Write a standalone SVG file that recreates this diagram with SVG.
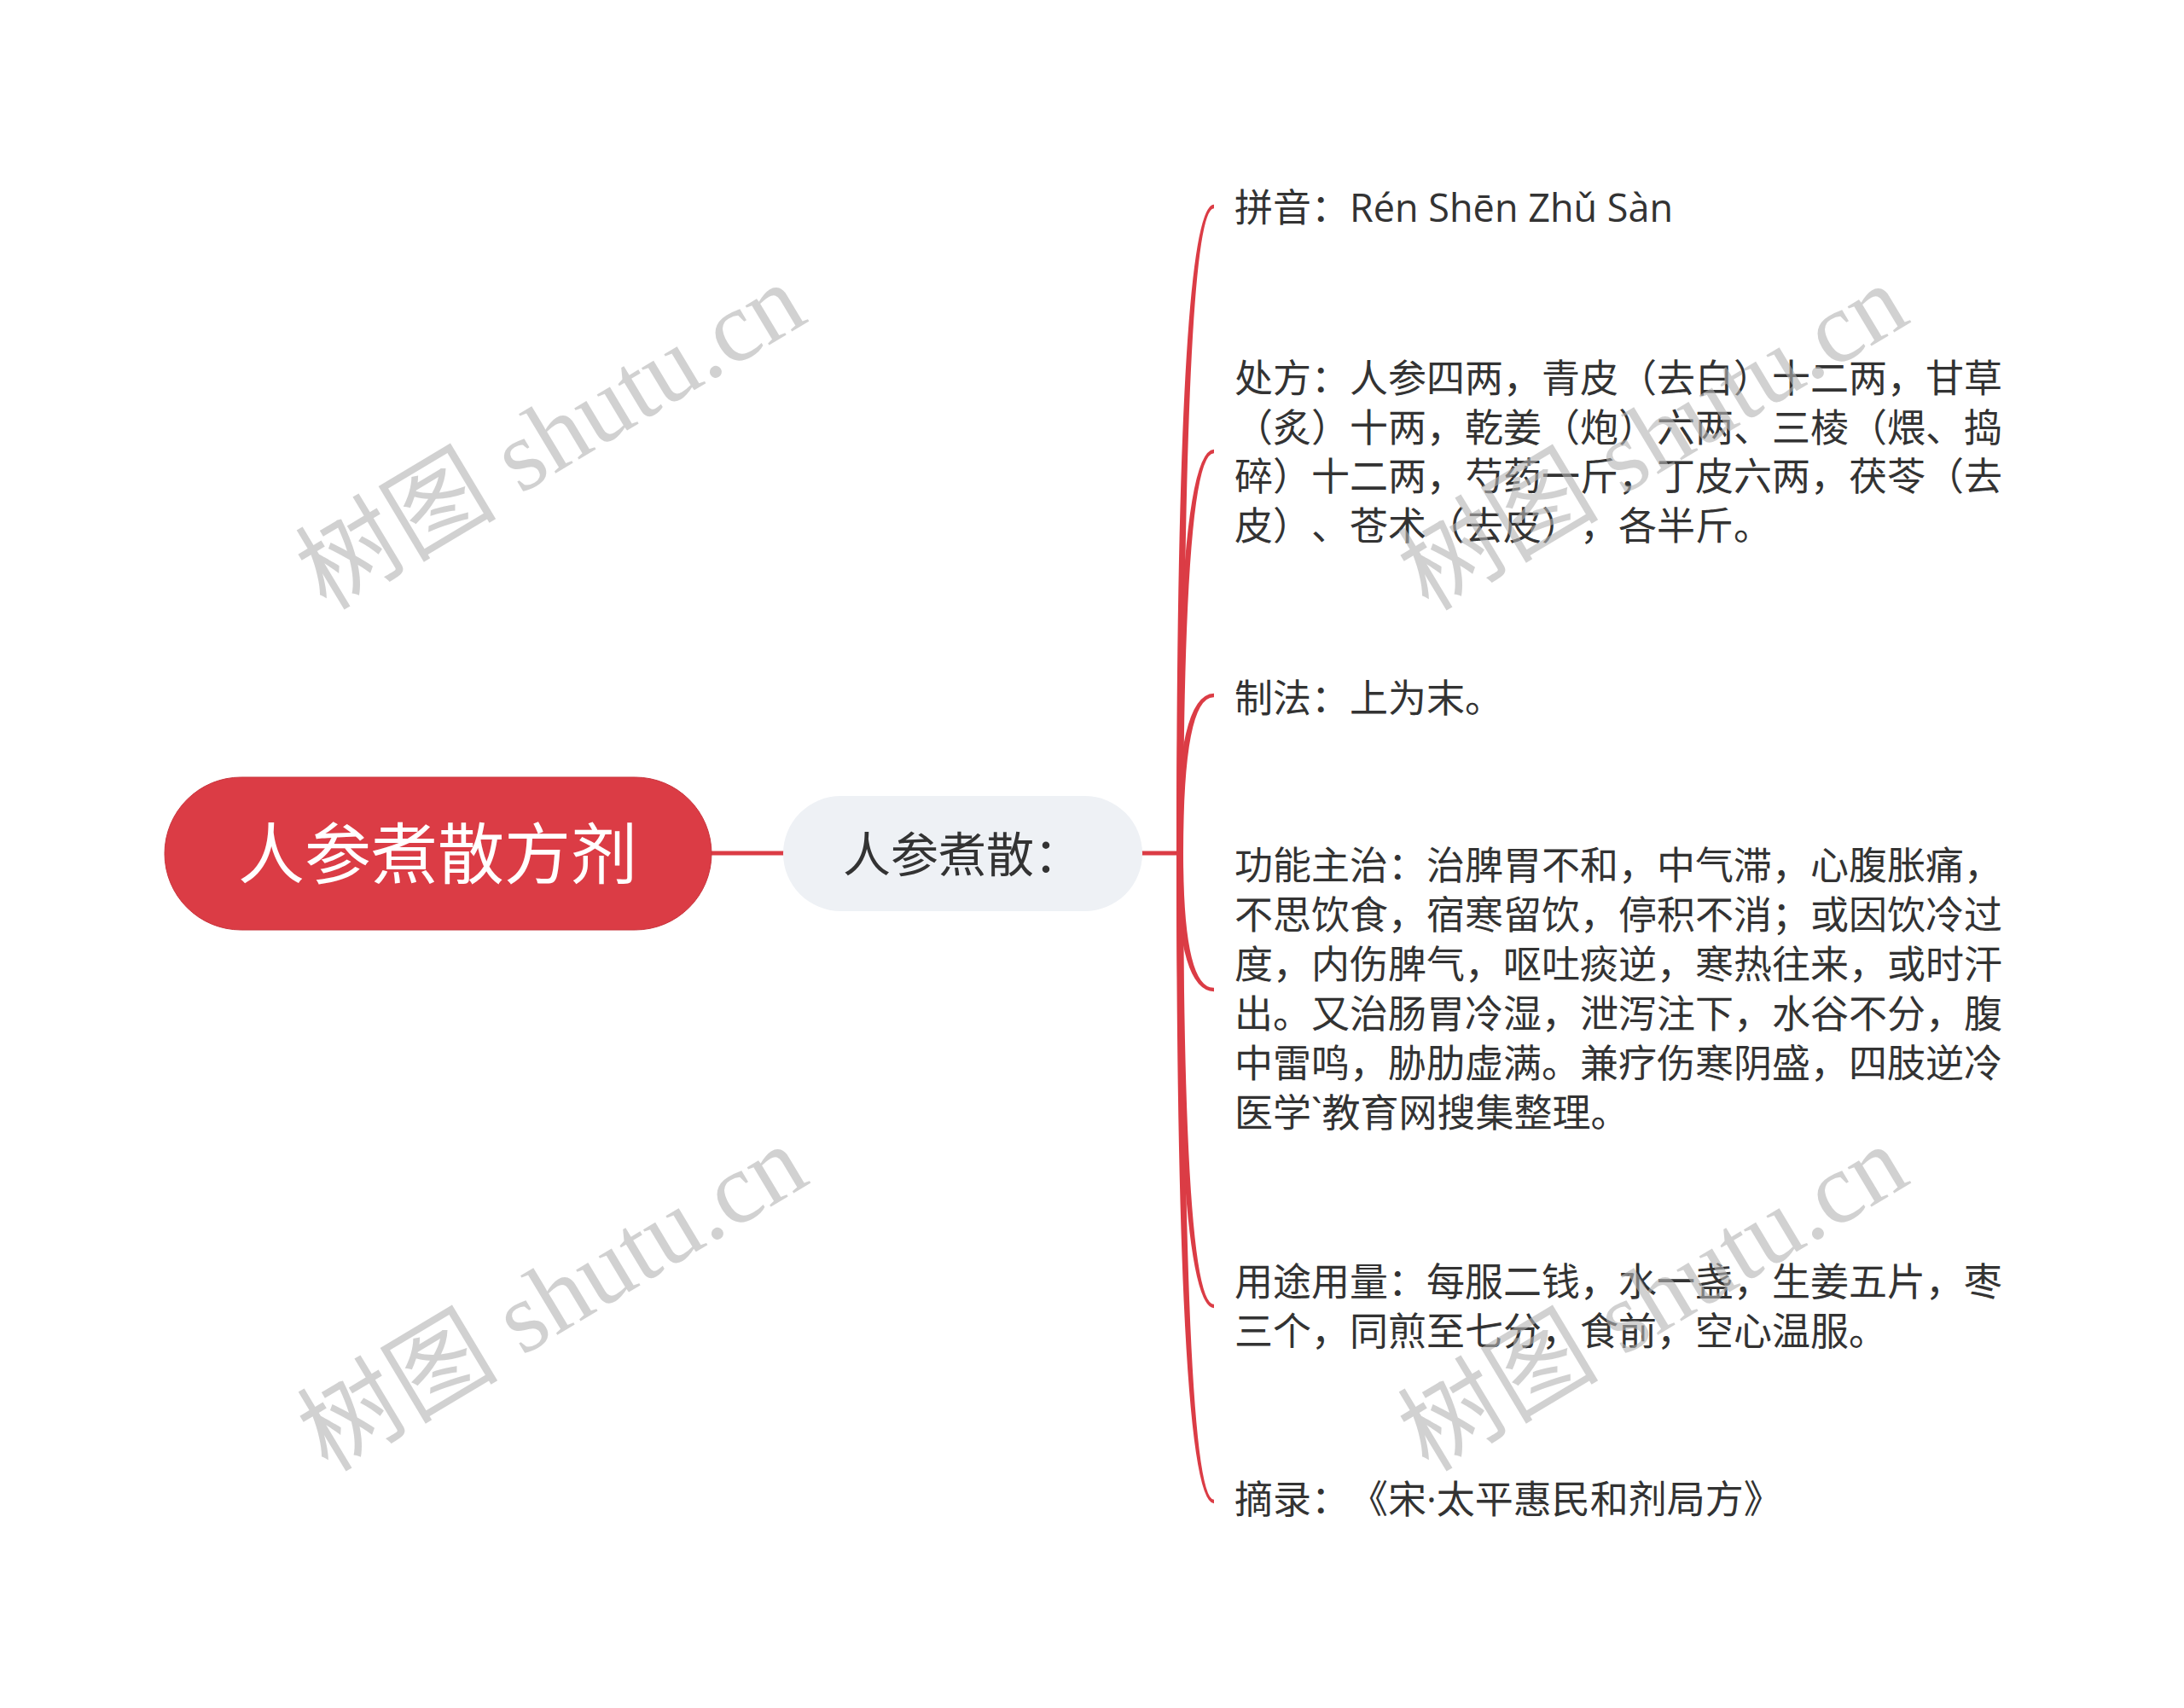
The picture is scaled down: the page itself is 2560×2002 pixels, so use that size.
<svg xmlns="http://www.w3.org/2000/svg" width="2560" height="2002" viewBox="0 0 2560 2002">
<style>
.cjk{font-family:"Noto Sans CJK SC","Noto Sans",sans-serif;font-feature-settings:"chws" 0,"halt" 0,"palt" 0;text-spacing-trim:space-all;}
.lat{font-family:"Open Sans","Noto Sans",sans-serif;}
.child{font-size:45px;fill:#333333;}
.conn{fill:#db3c45;}
.wm{font-family:"Liberation Serif","Noto Sans CJK SC",serif;font-size:118px;fill:#b4b4b4;opacity:0.6;}
</style>
<rect width="2560" height="2002" fill="#ffffff"/>
<g id="connectors">
<rect class="conn" x="832" y="997.5" width="88" height="5"/>
<rect class="conn" x="1337" y="997.5" width="50" height="5"/>
<path class="conn" d="M1379,1000 Q1379,241 1423,239.8 L1423,244.2 Q1387,243 1387,1000 Z"/>
<path class="conn" d="M1379,1000 Q1379,528 1423,526.8 L1423,531.2 Q1387,530 1387,1000 Z"/>
<path class="conn" d="M1379,1000 Q1379,814 1423,812.8 L1423,817.2 Q1387,816 1387,1000 Z"/>
<path class="conn" d="M1379,1000 Q1379,1161 1423,1162.2 L1423,1157.8 Q1387,1159 1387,1000 Z"/>
<path class="conn" d="M1379,1000 Q1379,1532 1423,1533.2 L1423,1528.8 Q1387,1530 1387,1000 Z"/>
<path class="conn" d="M1379,1000 Q1379,1761 1423,1762.2 L1423,1757.8 Q1387,1759 1387,1000 Z"/>
</g>
<g id="root">
<rect x="193" y="911" width="641" height="179" rx="89.5" fill="#db3c45" stroke="#c9343d" stroke-width="1"/>
<text class="cjk" x="513" y="1030" font-size="78" fill="#ffffff" text-anchor="middle">人参煮散方剂</text>
</g>
<g id="sub">
<rect x="918" y="933" width="421" height="135" rx="67.5" fill="#eef1f5"/>
<text class="cjk" x="1128" y="1022" font-size="56" fill="#333333" text-anchor="middle">人参煮散：</text>
</g>
<g id="n-pinyin">
<text class="cjk child" x="1447" y="260">拼音：<tspan class="lat">Rén Shēn Zhǔ Sàn</tspan></text>
</g>
<g id="n-chufang">
<text class="cjk child" x="1447" y="460"><tspan x="1447">处方：人参四两，青皮（去白）十二两，甘草</tspan><tspan x="1447" dy="57.7">（炙）十两，乾姜（炮）六两、三棱（煨、捣</tspan><tspan x="1447" dy="57.7">碎）十二两，芍药一斤，丁皮六两，茯苓（去</tspan><tspan x="1447" dy="57.7">皮）、苍术（去皮），各半斤。</tspan></text>
</g>
<g id="n-zhifa">
<text class="cjk child" x="1447" y="835">制法：上为末。</text>
</g>
<g id="n-gongneng">
<text class="cjk child" x="1447" y="1031"><tspan x="1447">功能主治：治脾胃不和，中气滞，心腹胀痛，</tspan><tspan x="1447" dy="58">不思饮食，宿寒留饮，停积不消；或因饮冷过</tspan><tspan x="1447" dy="58">度，内伤脾气，呕吐痰逆，寒热往来，或时汗</tspan><tspan x="1447" dy="58">出。又治肠胃冷湿，泄泻注下，水谷不分，腹</tspan><tspan x="1447" dy="58">中雷鸣，胁肋虚满。兼疗伤寒阴盛，四肢逆冷</tspan><tspan x="1447" dy="58">医学<tspan class="lat">`</tspan>教育网搜集整理。</tspan></text>
</g>
<g id="n-yongtu">
<text class="cjk child" x="1447" y="1519"><tspan x="1447">用途用量：每服二钱，水一盏，生姜五片，枣</tspan><tspan x="1447" dy="58">三个，同煎至七分，食前，空心温服。</tspan></text>
</g>
<g id="n-zhailu">
<text class="cjk child" x="1447" y="1774">摘录：《宋<tspan class="lat">·</tspan>太平惠民和剂局方》</text>
</g>
<g id="watermarks">
<text class="wm" transform="translate(648,516) rotate(-31)" x="0" y="35" text-anchor="middle">树图 shutu.cn</text>
<text class="wm" transform="translate(650,1526) rotate(-31)" x="0" y="35" text-anchor="middle">树图 shutu.cn</text>
<text class="wm" transform="translate(1940,517) rotate(-31)" x="0" y="35" text-anchor="middle">树图 shutu.cn</text>
<text class="wm" transform="translate(1940,1526) rotate(-31)" x="0" y="35" text-anchor="middle">树图 shutu.cn</text>
</g>
</svg>
